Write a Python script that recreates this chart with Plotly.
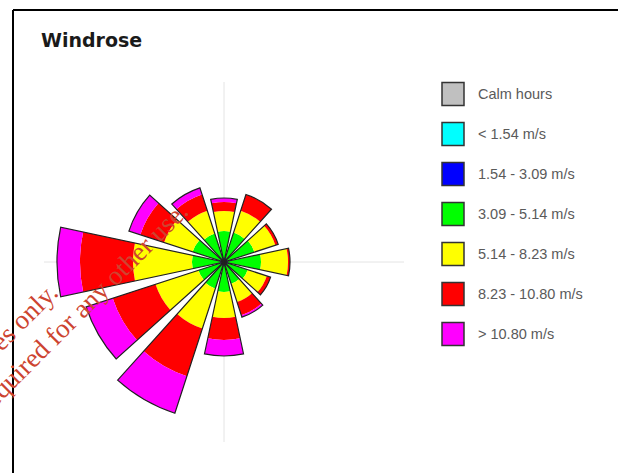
import plotly.graph_objects as go

# Canvas size in pixels
W, H = 618, 473

# Wind directions (degrees, clockwise from north)
directions = [0, 30, 60, 90, 120, 150, 180, 210, 240, 270, 300, 330]

# Speed classes, legend labels and colours
class_labels = ["Calm hours", "< 1.54 m/s", "1.54 - 3.09 m/s", "3.09 - 5.14 m/s",
                "5.14 - 8.23 m/s", "8.23 - 10.80 m/s", "> 10.80 m/s"]
class_colors = ["#c0c0c0", "#00ffff", "#0000ff", "#00ff00",
                "#ffff00", "#ff0000", "#ff00ff"]

# Frequency (%) per direction for each speed class
freq_calm = [0.0, 0.0, 0.0, 0.0, 0.0, 0.0, 0.0, 0.0, 0.0, 0.0, 0.0, 0.0]
freq_lt_154 = [0.0, 0.0, 0.0, 0.0, 0.0, 0.0, 0.0, 0.0, 0.0, 0.0, 0.0, 0.0]
freq_154_309 = [0.4, 0.4, 0.4, 0.4, 0.4, 0.4, 0.4, 0.4, 0.4, 0.4, 0.4, 0.4]
freq_309_514 = [2.7, 2.7, 2.8, 3.3, 2.1, 1.9, 2.6, 2.4, 2.3, 2.8, 2.9, 2.6]
freq_514_823 = [2.0, 2.3, 2.2, 2.7, 2.0, 1.9, 2.6, 4.2, 4.5, 5.9, 3.0, 2.4]
freq_823_1080 = [0.9, 1.7, 0.3, 0.2, 0.4, 1.4, 2.2, 5.0, 4.5, 5.3, 2.5, 1.7]
freq_gt_1080 = [0.4, 0.0, 0.0, 0.0, 0.0, 0.2, 1.6, 3.9, 2.8, 2.3, 1.2, 0.7]

series = [freq_calm, freq_lt_154, freq_154_309, freq_309_514,
          freq_514_823, freq_823_1080, freq_gt_1080]

R_MAX = 18.0          # radial range
CX, CY, RPX = 224, 262, 180   # rose centre and radius in pixels
SECTOR_WIDTH = 24


def px(x):
    return x / W


def py(y):
    return 1 - y / H


fig = go.Figure()

cum = [0.0] * len(directions)
for label, color, values in zip(class_labels, class_colors, series):
    base = list(cum)
    fig.add_trace(go.Barpolar(
        r=values, theta=directions, base=base, width=SECTOR_WIDTH,
        name=label, marker=dict(color=color, line=dict(width=0)),
        showlegend=False, hoverinfo="skip",
    ))
    cum = [c + v for c, v in zip(cum, values)]

# Outline of each sector (total frequency)
fig.add_trace(go.Barpolar(
    r=cum, theta=directions, base=[0.0] * len(directions), width=SECTOR_WIDTH,
    marker=dict(color="rgba(0,0,0,0)", line=dict(color="#222222", width=1.2)),
    showlegend=False, hoverinfo="skip",
))

shapes = []
annotations = []

# Frame
shapes.append(dict(type="line", xref="paper", yref="paper",
                   x0=px(13), x1=px(618), y0=py(10), y1=py(10),
                   line=dict(color="black", width=2)))
shapes.append(dict(type="line", xref="paper", yref="paper",
                   x0=px(13), x1=px(13), y0=py(10), y1=py(473),
                   line=dict(color="black", width=2)))

# Legend
LEG_X0, LEG_Y0, LEG_STEP = 442, 94, 40
for i, (label, color) in enumerate(zip(class_labels, class_colors)):
    yc = LEG_Y0 + i * LEG_STEP
    shapes.append(dict(type="rect", xref="paper", yref="paper",
                       x0=px(LEG_X0), x1=px(LEG_X0 + 22),
                       y0=py(yc - 11.5), y1=py(yc + 11.5),
                       fillcolor=color, line=dict(color="#333333", width=1.5)))
    annotations.append(dict(xref="paper", yref="paper", x=px(476), y=py(yc),
                            xanchor="left", yanchor="middle", showarrow=False,
                            text=label,
                            font=dict(family="Liberation Sans", size=14.5, color="#5a5a5a")))

# Title
annotations.append(dict(xref="paper", yref="paper", x=px(39), y=py(40),
                        xanchor="left", yanchor="middle", showarrow=False,
                        text="<b>Windrose</b>",
                        font=dict(family="DejaVu Sans", size=19, color="#1a1a1a")))

# Watermark
wm_font = dict(family="Liberation Serif", size=27, color="rgb(205,68,48)")
annotations.append(dict(xref="paper", yref="paper", x=px(-59), y=py(400),
                        xanchor="center", yanchor="middle", showarrow=False,
                        textangle=-45, text="For inspection purposes only.",
                        font=wm_font))
annotations.append(dict(xref="paper", yref="paper", x=px(-27), y=py(417),
                        xanchor="center", yanchor="middle", showarrow=False,
                        textangle=-45,
                        text="Consent of copyright owner required for any other use.",
                        font=wm_font))

fig.update_layout(
    width=W, height=H,
    margin=dict(l=0, r=0, t=0, b=0),
    paper_bgcolor="white", plot_bgcolor="white",
    shapes=shapes, annotations=annotations,
    polar=dict(
        barmode="overlay",
        domain=dict(x=[px(CX - RPX), px(CX + RPX)], y=[py(CY + RPX), py(CY - RPX)]),
        bgcolor="rgba(0,0,0,0)",
        radialaxis=dict(range=[0, R_MAX], showticklabels=False, ticks="",
                        showline=False, tickvals=[R_MAX], gridcolor="#f4f4f4"),
        angularaxis=dict(rotation=90, direction="clockwise", showticklabels=False,
                         ticks="", showline=False, tickvals=[0, 90, 180, 270],
                         gridcolor="#e4e4e4"),
    ),
)

fig.write_html("out.html", config={"displayModeBar": False})
